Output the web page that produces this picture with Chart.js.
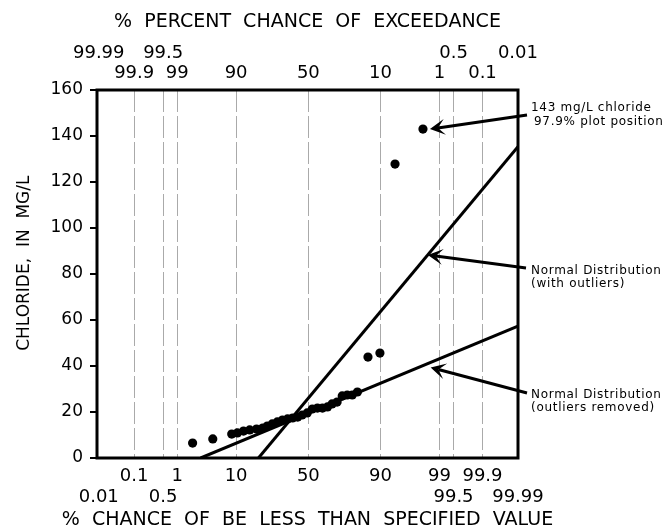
<!DOCTYPE html>
<html><head><meta charset="utf-8">
<script src="https://cdn.jsdelivr.net/npm/chart.js@4"></script>
<style>html,body{margin:0;padding:0;background:#fff}#wrap{width:672px;height:531px}</style>
</head><body><div id="wrap"><canvas id="c" width="672" height="531"></canvas></div>
<script>
// ---- data ----
const probTicks    = [0.01, 0.1, 0.5, 1, 10, 50, 90, 99, 99.5, 99.9, 99.99];
const bottomLabels = ['0.01','0.1','0.5','1','10','50','90','99','99.5','99.9','99.99'];
const topLabels    = ['99.99','99.9','99.5','99','90','50','10','1','0.5','0.1','0.01'];
const labelRow     = [2,1,2,1,1,1,1,1,2,1,2];   // 1 = row next to axis, 2 = outer row
const yTicks       = [0,20,40,60,80,100,120,140,160];
const bottomTitle  = '%  CHANCE  OF  BE  LESS  THAN  SPECIFIED  VALUE';

const plotPosition = [2.0,4.5,8.7,10.4,12.5,14.9,17.9,20.9,23.3,26.1,29.1,32.3,35.6,39.0,42.5,45.6,49.2,52.8,56.4,59.9,63.3,66.3,69.5,72.6,75.5,78.2,80.8,85.5,89.8,93.8,97.9];
const chloride     = [6.5,8.3,10.4,10.9,11.7,12.2,12.6,13.0,13.9,14.8,15.7,16.5,17.0,17.4,17.8,18.7,19.6,21.3,21.7,21.7,22.2,23.5,24.3,27.0,27.4,27.4,28.7,43.9,45.6,127.8,143];

const fitWithProb      = [18.8, 99.99];
const fitWithValue     = [0, 135.3];
const fitRemovedProb   = [2.8, 99.99];
const fitRemovedValue  = [0, 57.3];

const noteLines = [
  ['143 mg/L chloride', '97.9% plot position'],
  ['Normal Distribution', '(with outliers)'],
  ['Normal Distribution', '(outliers removed)']
];
const arrowProb = [97.9, 98.3, 98.5];

// ---- probability (normal quantile) transform ----
function toZ(pct){
  const p = pct/100;
  const a=[-3.969683028665376e+01,2.209460984245205e+02,-2.759285104469687e+02,1.383577518672690e+02,-3.066479806614716e+01,2.506628277459239e+00];
  const b=[-5.447609879822406e+01,1.615858368580409e+02,-1.556989798598866e+02,6.680131188771972e+01,-1.328068155288572e+01];
  const c=[-7.784894002430293e-03,-3.223964580411365e-01,-2.400758277161838e+00,-2.549732539343734e+00,4.374664141464968e+00,2.938163982698783e+00];
  const d=[7.784695709041462e-03,3.224671290700398e-01,2.445134137142996e+00,3.754408661907416e+00];
  const pl=0.02425, ph=1-pl; let q,r;
  if(p<pl){q=Math.sqrt(-2*Math.log(p));return (((((c[0]*q+c[1])*q+c[2])*q+c[3])*q+c[4])*q+c[5])/((((d[0]*q+d[1])*q+d[2])*q+d[3])*q+1);}
  if(p<=ph){q=p-0.5;r=q*q;return (((((a[0]*r+a[1])*r+a[2])*r+a[3])*r+a[4])*r+a[5])*q/(((((b[0]*r+b[1])*r+b[2])*r+b[3])*r+b[4])*r+1);}
  q=Math.sqrt(-2*Math.log(1-p));return -(((((c[0]*q+c[1])*q+c[2])*q+c[3])*q+c[4])*q+c[5])/((((d[0]*q+d[1])*q+d[2])*q+d[3])*q+1);
}
function lineAt(z, probs, vals){
  const z0=toZ(probs[0]), z1=toZ(probs[1]);
  return vals[0] + (vals[1]-vals[0])*(z-z0)/(z1-z0);
}

const FONT = 'DejaVu Sans';
const points = plotPosition.map((p,i)=>({x:toZ(p), y:chloride[i]}));
const line1 = fitWithProb.map((p,i)=>({x:toZ(p), y:fitWithValue[i]}));
const line2 = fitRemovedProb.map((p,i)=>({x:toZ(p), y:fitRemovedValue[i]}));
const zTicks = () => probTicks.map(p=>({value:toZ(p)}));

function drawArrow(ctx, tx, ty, hx, hy){
  const a = Math.atan2(hy-ty, hx-tx);
  const L=15, W=8, N=8;
  const ca=Math.cos(a), sa=Math.sin(a);
  ctx.beginPath(); ctx.moveTo(tx,ty); ctx.lineTo(hx-N*ca, hy-N*sa);
  ctx.lineWidth=3; ctx.strokeStyle='#000'; ctx.stroke();
  const bx=hx-L*ca, by=hy-L*sa, px=-sa, py=ca;
  ctx.beginPath(); ctx.moveTo(hx,hy);
  ctx.lineTo(bx+W*px, by+W*py);
  ctx.lineTo(hx-N*ca, hy-N*sa);
  ctx.lineTo(bx-W*px, by-W*py);
  ctx.closePath(); ctx.fillStyle='#000'; ctx.fill();
}

const framePlugin = {
  id:'frame',
  afterDatasetsDraw(chart){
    const {ctx, chartArea:{left,top,right,bottom}} = chart;
    ctx.save(); ctx.lineWidth=3; ctx.strokeStyle='#000';
    ctx.strokeRect(left, top, right-left, bottom-top);
    ctx.restore();
  }
};
const notePlugin = {
  id:'notes',
  afterDraw(chart){
    const {ctx, chartArea} = chart;
    const xs = chart.scales.x, ys = chart.scales.y;
    const R = chartArea.right;
    ctx.save();
    // bottom axis title (drawn without width compression)
    ctx.fillStyle='#000';
    ctx.font = '19px "'+FONT+'"';
    ctx.textAlign='center'; ctx.textBaseline='middle';
    ctx.fillText(bottomTitle, (chartArea.left+chartArea.right)/2, 520);

    const z1 = toZ(arrowProb[0]);
    const tip1 = [xs.getPixelForValue(z1)+7, ys.getPixelForValue(chloride[chloride.length-1])];
    const z2 = toZ(arrowProb[1]);
    const tip2 = [xs.getPixelForValue(z2), ys.getPixelForValue(lineAt(z2, fitWithProb, fitWithValue))];
    const z3 = toZ(arrowProb[2]);
    const tip3 = [xs.getPixelForValue(z3), ys.getPixelForValue(lineAt(z3, fitRemovedProb, fitRemovedValue))+5];
    drawArrow(ctx, R+9, 115, tip1[0], tip1[1]);
    drawArrow(ctx, R+8, 268, tip2[0], tip2[1]);
    drawArrow(ctx, R+9, 393, tip3[0], tip3[1]);
    ctx.fillStyle='#000';
    ctx.font = '12px "'+FONT+'"';
    try { ctx.letterSpacing = '0.7px'; } catch(e) {}
    ctx.textBaseline='middle'; ctx.textAlign='left';
    const ys0 = [[108,122],[271,284],[395,408]];
    noteLines.forEach((ls,i)=>{
      ls.forEach((t,j)=>ctx.fillText(t, R+13 + (j===1 && i===0 ? 3 : 0), ys0[i][j]));
    });
    ctx.restore();
  }
};

new Chart(document.getElementById('c'), {
  type:'scatter',
  data:{datasets:[
    {data:points, backgroundColor:'#000', borderColor:'#000', pointRadius:4.6, borderWidth:0, order:1},
    {data:line1, showLine:true, borderColor:'#000', borderWidth:3, pointRadius:0, order:2},
    {data:line2, showLine:true, borderColor:'#000', borderWidth:3, pointRadius:0, order:3}
  ]},
  options:{
    responsive:false, animation:false,
    layout:{padding:{left:0,right:154,top:0,bottom:0}},
    plugins:{legend:{display:false}, tooltip:{enabled:false}},
    scales:{
      x:{
        type:'linear', position:'bottom', min:-3.75, max:3.72,
        afterBuildTicks:s=>{s.ticks = zTicks();},
        afterFit:s=>{s.height=73;},
        ticks:{autoSkip:false, maxRotation:0, color:'#000', padding:8,
          font:{family:FONT, size:18, lineHeight:1.15},
          callback:(v,i)=> labelRow[i]===1 ? [bottomLabels[i],''] : ['',bottomLabels[i]]},
        grid:{drawTicks:false, lineWidth:1,
          color:c=> (c.index===0 || c.index===probTicks.length-1) ? 'rgba(0,0,0,0)' : '#aaaaaa'},
        border:{display:false, dash:[22,4]},
        title:{display:false}
      },
      x2:{
        type:'linear', position:'top', min:-3.75, max:3.72,
        afterBuildTicks:s=>{s.ticks = zTicks();},
        afterFit:s=>{s.height=90;},
        ticks:{autoSkip:false, maxRotation:0, color:'#000', padding:7,
          font:{family:FONT, size:18, lineHeight:1.1},
          callback:(v,i)=> labelRow[i]===1 ? ['',topLabels[i]] : [topLabels[i],'']},
        grid:{display:false, drawTicks:false},
        border:{display:false},
        title:{display:true, text:'%  PERCENT  CHANCE  OF  EXCEEDANCE', color:'#000',
          font:{family:FONT, size:19}, padding:{top:11,bottom:0}}
      },
      y:{
        type:'linear', position:'left', min:0, max:160,
        afterBuildTicks:s=>{s.ticks = yTicks.map(v=>({value:v}));},
        afterFit:s=>{s.width=97;},
        ticks:{color:'#000', padding:7, font:{family:FONT, size:17}},
        grid:{drawOnChartArea:false, drawTicks:true, tickLength:7, color:'#000', lineWidth:2},
        border:{display:false},
        title:{display:true, text:'    CHLORIDE,  IN  MG/L', color:'#000',
          font:{family:FONT, size:17}, padding:{top:14,bottom:0}}
      }
    }
  },
  plugins:[framePlugin, notePlugin]
});
</script>
</body></html>
